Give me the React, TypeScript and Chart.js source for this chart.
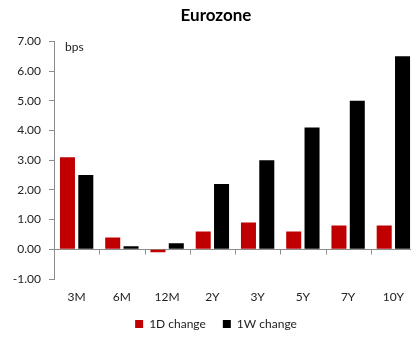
import React, { useEffect, useRef } from "react";
import { Chart, registerables } from "chart.js";

Chart.register(...registerables);

const categories = ["3M", "6M", "12M", "2Y", "3Y", "5Y", "7Y", "10Y"];
const change1D = [3.1, 0.4, -0.1, 0.6, 0.9, 0.6, 0.8, 0.8];
const change1W = [2.5, 0.1, 0.2, 2.2, 3.0, 4.1, 5.0, 6.5];
const seriesNames = ["1D change", "1W change"];
const seriesColors = ["#C00000", "#000000"];
const yMin = -1;
const yMax = 7;
const unitLabel = "bps";

const FONT = "Lato, 'Open Sans', sans-serif";
const TEXT = "#222222";
const AXIS = "#8C8C8C";

// Zero baseline, category separators hanging under it, and the unit note.
const axisDecor = {
  id: "axisDecor",
  afterLayout(chart: any) {
    // let the value labels run into the left margin instead of being clipped
    chart.scales.y.left = 0;
  },
  beforeDatasetsDraw(chart: any) {
    const { ctx, chartArea, scales } = chart;
    const xs = scales.x;
    const y0 = Math.round(scales.y.getPixelForValue(0)) + 0.5;
    ctx.save();
    ctx.strokeStyle = AXIS;
    ctx.lineWidth = 1;
    ctx.beginPath();
    ctx.moveTo(chartArea.left, y0);
    ctx.lineTo(chartArea.right, y0);
    for (let i = 1; i < categories.length; i++) {
      const px = Math.round((xs.getPixelForTick(i - 1) + xs.getPixelForTick(i)) / 2) + 0.5;
      ctx.moveTo(px, y0);
      ctx.lineTo(px, y0 + 5);
    }
    ctx.stroke();
    ctx.fillStyle = TEXT;
    ctx.font = `12px ${FONT}`;
    ctx.textBaseline = "middle";
    ctx.textAlign = "left";
    ctx.fillText(unitLabel, chartArea.left + 11, chartArea.top + 6);
    ctx.restore();
  },
};

export default function App() {
  const ref = useRef<HTMLCanvasElement | null>(null);

  useEffect(() => {
    if (!ref.current) return;
    const chart = new Chart(ref.current, {
      type: "bar",
      data: {
        labels: categories,
        datasets: [
          { label: seriesNames[0], data: change1D, backgroundColor: seriesColors[0] },
          { label: seriesNames[1], data: change1W, backgroundColor: seriesColors[1] },
        ],
      },
      options: {
        responsive: false,
        devicePixelRatio: 1,
        animation: false,
        datasets: { bar: { categoryPercentage: 0.81, barPercentage: 0.82 } },
        layout: { padding: { left: 16, right: 0, top: 5, bottom: 0 } },
        plugins: {
          title: {
            display: true,
            text: "Eurozone",
            color: "#000",
            font: { family: FONT, size: 17, weight: "bold" },
            padding: { top: 0, bottom: 16 },
          },
          legend: {
            position: "bottom",
            labels: {
              color: TEXT,
              font: { family: FONT, size: 12 },
              boxWidth: 8,
              boxHeight: 8,
              padding: 17,
            },
          },
          tooltip: { enabled: false },
        },
        scales: {
          x: {
            afterFit(scale: any) {
              scale.height = 22;
            },
            grid: { display: false, drawTicks: false },
            border: { display: false },
            ticks: { color: TEXT, font: { family: FONT, size: 12 }, padding: 11 },
          },
          y: {
            min: yMin,
            max: yMax,
            afterFit(scale: any) {
              scale.width = 38;
            },
            grid: { drawOnChartArea: false, drawTicks: true, tickLength: 5, color: AXIS },
            border: { display: true, color: AXIS },
            ticks: {
              stepSize: 1,
              color: TEXT,
              font: { family: FONT, size: 12 },
              padding: 8,
              callback: (v: any) => Number(v).toFixed(2),
            },
          },
        },
      },
      plugins: [axisDecor],
    });
    return () => chart.destroy();
  }, []);

  return (
    <div style={{ position: "absolute", left: 0, top: 0, width: 411, height: 340, overflow: "hidden", background: "#fff" }}>
      <canvas ref={ref} width={416} height={340} style={{ display: "block", width: 416, height: 340 }} />
    </div>
  );
}
